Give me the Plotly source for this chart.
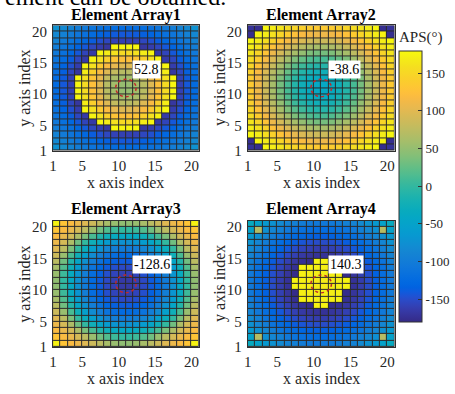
import plotly.graph_objects as go

# ---------------- data (APS values in degrees, rows listed bottom -> top) ----------------
array1 = [
    [-74,-84,-92,-99,-105,-112,-116,-120,-123,-125,-125,-123,-120,-116,-112,-105,-99,-92,-84,-74],
    [-84,-93,-101,-109,-116,-123,-131,-136,-140,-142,-142,-140,-136,-131,-123,-116,-109,-101,-93,-84],
    [-92,-101,-110,-119,-129,-138,-147,-154,-158,-160,-160,-158,-154,-147,-138,-129,-119,-110,-101,-92],
    [-99,-109,-119,-131,-142,-154,-162,-168,178,177,177,178,-168,-162,-154,-142,-131,-119,-109,-99],
    [-105,-116,-129,-142,-156,-165,177,170,160,155,155,160,170,177,-165,-156,-142,-129,-116,-105],
    [-112,-123,-138,-154,-165,175,160,142,130,125,125,130,142,160,175,-165,-154,-138,-123,-112],
    [-116,-131,-147,-162,177,160,136,118,105,98,98,105,118,136,160,177,-162,-147,-131,-116],
    [-120,-136,-154,-168,170,142,118,98,80,72,72,80,98,118,142,170,-168,-154,-136,-120],
    [-123,-140,-158,178,160,130,105,80,63,58,58,63,80,105,130,160,178,-158,-140,-123],
    [-125,-142,-160,177,155,125,98,72,58,52,52,58,72,98,125,155,177,-160,-142,-125],
    [-125,-142,-160,177,155,125,98,72,58,52,52,58,72,98,125,155,177,-160,-142,-125],
    [-123,-140,-158,178,160,130,105,80,63,58,58,63,80,105,130,160,178,-158,-140,-123],
    [-120,-136,-154,-168,170,142,118,98,80,72,72,80,98,118,142,170,-168,-154,-136,-120],
    [-116,-131,-147,-162,177,160,136,118,105,98,98,105,118,136,160,177,-162,-147,-131,-116],
    [-112,-123,-138,-154,-165,175,160,142,130,125,125,130,142,160,175,-165,-154,-138,-123,-112],
    [-105,-116,-129,-142,-156,-165,177,170,160,155,155,160,170,177,-165,-156,-142,-129,-116,-105],
    [-99,-109,-119,-131,-142,-154,-162,-168,178,177,177,178,-168,-162,-154,-142,-131,-119,-109,-99],
    [-92,-101,-110,-119,-129,-138,-147,-154,-158,-160,-160,-158,-154,-147,-138,-129,-119,-110,-101,-92],
    [-84,-93,-101,-109,-116,-123,-131,-136,-140,-142,-142,-140,-136,-131,-123,-116,-109,-101,-93,-84],
    [-74,-84,-92,-99,-105,-112,-116,-120,-123,-125,-125,-123,-120,-116,-112,-105,-99,-92,-84,-74],
]

array2 = [
    [-172,-176,177,171,164,156,149,142,138,135,135,138,142,149,156,164,171,177,-176,-172],
    [-176,176,169,160,149,138,126,118,113,110,110,113,118,126,138,149,160,169,176,-176],
    [177,169,158,145,129,116,104,96,89,86,86,89,96,104,116,129,145,158,169,177],
    [171,160,145,126,110,96,83,72,65,61,61,65,72,83,96,110,126,145,160,171],
    [164,149,129,110,92,76,61,50,38,34,34,38,50,61,76,92,110,129,149,164],
    [156,138,116,96,76,57,38,26,16,11,11,16,26,38,57,76,96,116,138,156],
    [149,126,104,83,61,38,21,6,-4,-9,-9,-4,6,21,38,61,83,104,126,149],
    [142,118,96,72,50,26,6,-9,-19,-25,-25,-19,-9,6,26,50,72,96,118,142],
    [138,113,89,65,38,16,-4,-19,-30,-35,-35,-30,-19,-4,16,38,65,89,113,138],
    [135,110,86,61,34,11,-9,-25,-35,-40,-40,-35,-25,-9,11,34,61,86,110,135],
    [135,110,86,61,34,11,-9,-25,-35,-40,-40,-35,-25,-9,11,34,61,86,110,135],
    [138,113,89,65,38,16,-4,-19,-30,-35,-35,-30,-19,-4,16,38,65,89,113,138],
    [142,118,96,72,50,26,6,-9,-19,-25,-25,-19,-9,6,26,50,72,96,118,142],
    [149,126,104,83,61,38,21,6,-4,-9,-9,-4,6,21,38,61,83,104,126,149],
    [156,138,116,96,76,57,38,26,16,11,11,16,26,38,57,76,96,116,138,156],
    [164,149,129,110,92,76,61,50,38,34,34,38,50,61,76,92,110,129,149,164],
    [171,160,145,126,110,96,83,72,65,61,61,65,72,83,96,110,126,145,160,171],
    [177,169,158,145,129,116,104,96,89,86,86,89,96,104,116,129,145,158,169,177],
    [-176,176,169,160,149,138,126,118,113,110,110,113,118,126,138,149,160,169,176,-176],
    [-172,-176,177,171,164,156,149,142,138,135,135,138,142,149,156,164,171,177,-176,-172],
]

array3 = [
    [175,130,119,109,99,86,74,62,53,48,48,53,62,74,86,99,109,119,130,175],
    [130,118,106,92,74,53,32,17,6,0,0,6,17,32,53,74,92,106,118,130],
    [119,106,89,66,37,12,-10,-25,-35,-40,-40,-35,-25,-10,12,37,66,89,106,119],
    [109,92,66,32,0,-25,-45,-60,-69,-74,-74,-69,-60,-45,-25,0,32,66,92,109],
    [99,74,37,0,-30,-55,-74,-88,-97,-102,-102,-97,-88,-74,-55,-30,0,37,74,99],
    [86,53,12,-25,-55,-79,-97,-111,-120,-124,-124,-120,-111,-97,-79,-55,-25,12,53,86],
    [74,32,-10,-45,-74,-97,-115,-128,-136,-140,-140,-136,-128,-115,-97,-74,-45,-10,32,74],
    [62,17,-25,-60,-88,-111,-128,-140,-148,-152,-152,-148,-140,-128,-111,-88,-60,-25,17,62],
    [53,6,-35,-69,-97,-120,-136,-148,-156,-160,-160,-156,-148,-136,-120,-97,-69,-35,6,53],
    [48,0,-40,-74,-102,-124,-140,-152,-160,-165,-165,-160,-152,-140,-124,-102,-74,-40,0,48],
    [48,0,-40,-74,-102,-124,-140,-152,-160,-165,-165,-160,-152,-140,-124,-102,-74,-40,0,48],
    [53,6,-35,-69,-97,-120,-136,-148,-156,-160,-160,-156,-148,-136,-120,-97,-69,-35,6,53],
    [62,17,-25,-60,-88,-111,-128,-140,-148,-152,-152,-148,-140,-128,-111,-88,-60,-25,17,62],
    [74,32,-10,-45,-74,-97,-115,-128,-136,-140,-140,-136,-128,-115,-97,-74,-45,-10,32,74],
    [86,53,12,-25,-55,-79,-97,-111,-120,-124,-124,-120,-111,-97,-79,-55,-25,12,53,86],
    [99,74,37,0,-30,-55,-74,-88,-97,-102,-102,-97,-88,-74,-55,-30,0,37,74,99],
    [109,92,66,32,0,-25,-45,-60,-69,-74,-74,-69,-60,-45,-25,0,32,66,92,109],
    [119,106,89,66,37,12,-10,-25,-35,-40,-40,-35,-25,-10,12,37,66,89,106,119],
    [130,118,106,92,74,53,32,17,6,0,0,6,17,32,53,74,92,106,118,130],
    [175,130,119,109,99,86,74,62,53,48,48,53,62,74,86,99,109,119,130,175],
]

array4 = [
    [-35,-50,-64,-73,-82,-90,-95,-100,-104,-106,-106,-104,-100,-95,-90,-82,-73,-64,-50,-35],
    [-50,70,-76,-86,-95,-104,-112,-116,-120,-122,-122,-120,-116,-112,-104,-95,-86,-76,70,-50],
    [-64,-76,-88,-98,-110,-118,-125,-130,-134,-136,-136,-134,-130,-125,-118,-110,-98,-88,-76,-64],
    [-73,-86,-98,-112,-122,-130,-138,-144,-148,-150,-150,-148,-144,-138,-130,-122,-112,-98,-86,-73],
    [-82,-95,-110,-122,-132,-142,-150,-156,-160,-162,-162,-160,-156,-150,-142,-132,-122,-110,-95,-82],
    [-90,-104,-118,-130,-142,-152,-160,-166,-170,-172,-172,-170,-166,-160,-152,-142,-130,-118,-104,-90],
    [-95,-112,-125,-138,-150,-160,-168,-174,-178,175,175,-178,-174,-168,-160,-150,-138,-125,-112,-95],
    [-100,-116,-130,-144,-156,-166,-174,175,173,172,172,173,175,-174,-166,-156,-144,-130,-116,-100],
    [-104,-120,-134,-148,-160,-170,-178,173,171,170,170,171,173,-178,-170,-160,-148,-134,-120,-104],
    [-106,-122,-136,-150,-162,-172,175,172,170,168,168,170,172,175,-172,-162,-150,-136,-122,-106],
    [-106,-122,-136,-150,-162,-172,175,172,170,168,168,170,172,175,-172,-162,-150,-136,-122,-106],
    [-104,-120,-134,-148,-160,-170,-178,173,171,170,170,171,173,-178,-170,-160,-148,-134,-120,-104],
    [-100,-116,-130,-144,-156,-166,-174,175,173,172,172,173,175,-174,-166,-156,-144,-130,-116,-100],
    [-95,-112,-125,-138,-150,-160,-168,-174,-178,175,175,-178,-174,-168,-160,-150,-138,-125,-112,-95],
    [-90,-104,-118,-130,-142,-152,-160,-166,-170,-172,-172,-170,-166,-160,-152,-142,-130,-118,-104,-90],
    [-82,-95,-110,-122,-132,-142,-150,-156,-160,-162,-162,-160,-156,-150,-142,-132,-122,-110,-95,-82],
    [-73,-86,-98,-112,-122,-130,-138,-144,-148,-150,-150,-148,-144,-138,-130,-122,-112,-98,-86,-73],
    [-64,-76,-88,-98,-110,-118,-125,-130,-134,-136,-136,-134,-130,-125,-118,-110,-98,-88,-76,-64],
    [-50,70,-76,-86,-95,-104,-112,-116,-120,-122,-122,-120,-116,-112,-104,-95,-86,-76,70,-50],
    [-35,-50,-64,-73,-82,-90,-95,-100,-104,-106,-106,-104,-100,-95,-90,-82,-73,-64,-50,-35],
]

titles = ["Element Array1", "Element Array2", "Element Array3", "Element Array4"]
center_labels = ["52.8", "-38.6", "-128.6", "140.3"]
axis_ticks = [1, 5, 10, 15, 20]
cbar_ticks = [-150, -100, -50, 0, 50, 100, 150]
cbar_ticktext = ["-150", "-100", "-50", "0", "50", "100", "150"]
cbar_title = "APS(°)"
x_title = "x axis index"
y_title = "y axis index"
top_text = "ement can be obtained."

# ---------------- style ----------------
W, H = 455, 394
FONT = "Liberation Serif"
TXT = "#262626"

parula = [
    (0.2081,0.1663,0.5292),(0.2116,0.1898,0.5777),(0.2123,0.2138,0.6270),(0.2081,0.2386,0.6771),
    (0.1959,0.2645,0.7279),(0.1707,0.2919,0.7792),(0.1253,0.3242,0.8303),(0.0591,0.3598,0.8683),
    (0.0117,0.3875,0.8820),(0.0060,0.4086,0.8828),(0.0165,0.4266,0.8786),(0.0329,0.4430,0.8720),
    (0.0498,0.4586,0.8641),(0.0629,0.4737,0.8554),(0.0723,0.4887,0.8467),(0.0779,0.5040,0.8384),
    (0.0793,0.5200,0.8312),(0.0749,0.5375,0.8263),(0.0641,0.5570,0.8240),(0.0488,0.5772,0.8228),
    (0.0343,0.5966,0.8199),(0.0265,0.6137,0.8135),(0.0239,0.6287,0.8038),(0.0231,0.6418,0.7913),
    (0.0228,0.6535,0.7768),(0.0267,0.6642,0.7607),(0.0384,0.6743,0.7436),(0.0590,0.6838,0.7254),
    (0.0843,0.6928,0.7062),(0.1133,0.7015,0.6859),(0.1453,0.7098,0.6646),(0.1801,0.7177,0.6424),
    (0.2178,0.7250,0.6193),(0.2586,0.7317,0.5954),(0.3022,0.7376,0.5712),(0.3482,0.7424,0.5473),
    (0.3953,0.7459,0.5244),(0.4420,0.7481,0.5033),(0.4871,0.7491,0.4840),(0.5300,0.7491,0.4661),
    (0.5709,0.7485,0.4494),(0.6099,0.7473,0.4337),(0.6473,0.7456,0.4188),(0.6834,0.7435,0.4044),
    (0.7184,0.7411,0.3905),(0.7525,0.7384,0.3768),(0.7858,0.7356,0.3633),(0.8185,0.7327,0.3498),
    (0.8507,0.7299,0.3360),(0.8824,0.7274,0.3217),(0.9139,0.7258,0.3063),(0.9450,0.7261,0.2886),
    (0.9739,0.7314,0.2666),(0.9938,0.7455,0.2403),(0.9990,0.7653,0.2164),(0.9955,0.7861,0.1967),
    (0.9880,0.8066,0.1794),(0.9789,0.8271,0.1633),(0.9697,0.8481,0.1475),(0.9626,0.8705,0.1309),
    (0.9589,0.8949,0.1132),(0.9598,0.9218,0.0948),(0.9661,0.9514,0.0755),(0.9763,0.9831,0.0538),
]
colorscale = [[i / (len(parula) - 1), "rgb(%d,%d,%d)" % (r * 255, g * 255, b * 255)]
              for i, (r, g, b) in enumerate(parula)]

def px_x(p):
    return p / W

def px_y(p):
    return 1 - p / H

# panel pixel boxes: (left, right, top, bottom)
boxes = [(49.5, 196.5, 25, 153), (246, 394, 25, 153),
         (49.5, 196.5, 225, 354), (246, 394, 225, 354)]
title_y = [14, 14, 213, 213]
xlab_y = [186, 186, 386, 386]
ylab_x = [21, 218, 21, 218]

fig = go.Figure()
data = [array1, array2, array3, array4]
annotations = []
shapes = []
layout_axes = {}

for n in range(4):
    sfx = "" if n == 0 else str(n + 1)
    xa, ya = "x" + sfx, "y" + sfx
    L, R, T, B = boxes[n]
    fig.add_trace(go.Heatmap(
        z=data[n], x0=1.5, dx=1, y0=1.5, dy=1,
        coloraxis="coloraxis", xgap=1, ygap=1,
        xaxis=xa, yaxis=ya, hoverinfo="skip"))
    common = dict(range=[1, 21], tickvals=axis_ticks, showgrid=False, zeroline=False,
                  ticks="", showline=True, linecolor="#303030", linewidth=1, mirror=True,
                  tickfont=dict(family=FONT, size=15, color=TXT), fixedrange=True)
    layout_axes["xaxis" + sfx] = dict(domain=[px_x(L), px_x(R)], anchor=ya,
                                      ticklabelstandoff=1, **common)
    layout_axes["yaxis" + sfx] = dict(domain=[px_y(B), px_y(T)], anchor=xa,
                                      ticklabelstandoff=2, **common)
    cx = (L + R) / 2
    annotations.append(dict(text="<b>%s</b>" % titles[n], x=px_x(cx), y=px_y(title_y[n]),
                            xref="paper", yref="paper", showarrow=False,
                            xanchor="center", yanchor="middle",
                            font=dict(family=FONT, size=16, color="black")))
    annotations.append(dict(text=x_title, x=px_x(cx), y=px_y(xlab_y[n]),
                            xref="paper", yref="paper", showarrow=False,
                            xanchor="center", yanchor="middle",
                            font=dict(family=FONT, size=16, color=TXT)))
    annotations.append(dict(text=y_title, x=px_x(ylab_x[n]), y=px_y((T + B) / 2),
                            xref="paper", yref="paper", showarrow=False, textangle=-90,
                            xanchor="center", yanchor="middle",
                            font=dict(family=FONT, size=16, color=TXT)))
    annotations.append(dict(text=center_labels[n], x=11.9, y=14.0, xref=xa, yref=ya,
                            showarrow=False, xanchor="left", yanchor="middle",
                            bgcolor="white", borderpad=1,
                            font=dict(family=FONT, size=14, color="black")))
    shapes.append(dict(type="circle", xref=xa, yref=ya, x0=9.6, x1=12.4, y0=9.6, y1=12.4,
                       line=dict(color="#c0282a", width=1.5, dash="dot")))

annotations.append(dict(text=cbar_title, x=px_x(421), y=px_y(37), xref="paper", yref="paper",
                        showarrow=False, xanchor="center", yanchor="middle",
                        font=dict(family=FONT, size=15, color=TXT)))
annotations.append(dict(text=top_text, x=px_x(-1), y=px_y(-4), xref="paper", yref="paper",
                        showarrow=False, xanchor="left", yanchor="middle",
                        font=dict(family=FONT, size=24, color="black")))

fig.update_layout(
    width=W, height=H, margin=dict(l=0, r=0, t=0, b=0),
    paper_bgcolor="white", plot_bgcolor="#2b2b2b",
    showlegend=False,
    coloraxis=dict(
        colorscale=colorscale, cmin=-180, cmax=180,
        colorbar=dict(x=px_x(399), xanchor="left", xpad=0, ypad=0,
                      y=px_y(189.5), yanchor="middle",
                      len=277 / H, lenmode="fraction",
                      thickness=23, thicknessmode="pixels",
                      tickvals=cbar_ticks, ticktext=cbar_ticktext,
                      ticks="inside", ticklen=4, tickcolor="#333",
                      outlinewidth=1, outlinecolor="#333",
                      tickfont=dict(family=FONT, size=13, color=TXT)),
    ),
    annotations=annotations, shapes=shapes,
    **layout_axes,
)

fig.write_html("out.html")
